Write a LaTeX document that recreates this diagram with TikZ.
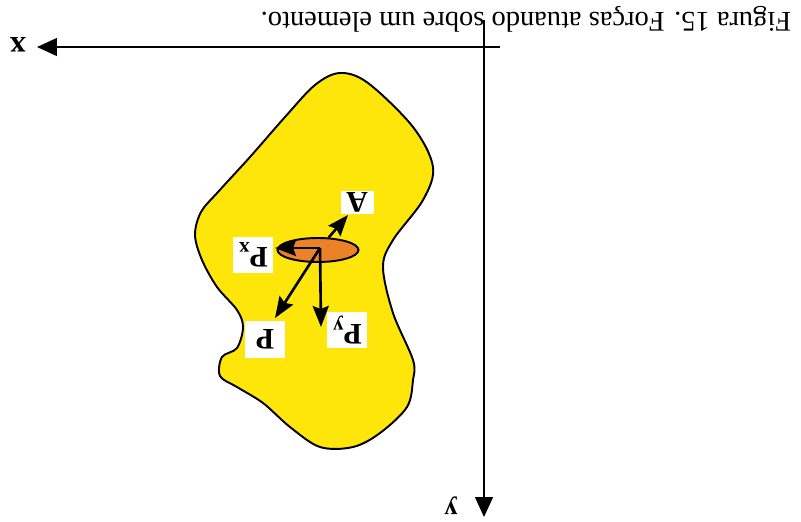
\documentclass[tikz,border=0pt]{standalone}
\usepackage{fontspec}
\setmainfont{Liberation Serif}
\usetikzlibrary{arrows.meta,shapes.geometric}
\definecolor{blobyellow}{RGB}{255,230,10}
\definecolor{elemorange}{RGB}{236,130,40}

\begin{document}
\begin{tikzpicture}[
    x=0.02cm, y=-0.02cm,
    axis/.style={-{Triangle[length=4mm, width=3.6mm]}, line width=0.8pt},
    force/.style={-{Stealth[length=4.2mm, width=3.2mm, inset=0.6mm]}, line width=1.5pt},
    lbl/.style={fill=white, rotate=180, font=\fontsize{17}{20}\selectfont\bfseries, inner sep=0pt, minimum width=0.8cm, minimum height=0.72cm},
    axlbl/.style={rotate=180, font=\fontsize{18}{20}\selectfont\bfseries, inner sep=1pt}
  ]
    \useasboundingbox (0,0) rectangle (801,521);

    \node[rotate=180, font=\fontsize{16.2}{19}\selectfont] (cap) at (526,19) {Figura 15. Forças atuando sobre um elemento.};

    \coordinate (xs) at (500,47);
    \coordinate (xe) at (37,47);
    \coordinate (ys) at (484,20);
    \coordinate (ye) at (484,517);
    \draw[axis] (xs) -- (xe);
    \draw[axis] (ys) -- (ye);
    \node[axlbl] (xl) at (18,45) {x};
    \node[axlbl, font=\fontsize{15}{17}\selectfont\bfseries] (yl) at (451,506) {y};

    \draw[fill=blobyellow, line width=1.1pt] plot[smooth cycle, tension=0.55] coordinates {
      (340,73) (368,83) (413,127) (433,167) (423,200) (393,240) (383,267)
      (393,313) (413,360) (413,380) (407,407) (380,433) (353,447) (320,447)
      (290,427) (263,403) (237,387) (220,376) (222,357) (237,348) (243,327)
      (237,310) (217,287) (202,260) (195,235) (201,212) (218,192) (250,157)
      (285,117) (315,85)};

    \node[draw, fill=elemorange, ellipse, line width=1.1pt, minimum width=1.62cm, minimum height=0.48cm, inner sep=0pt] (el) at (318,250) {};
    \coordinate (o) at (320,248);

    \node[lbl, minimum width=0.66cm, minimum height=0.46cm] (a) at (357,202) {A};
    \node[lbl] (px) at (253,255) {P\textsubscript{x}};
    \node[lbl, minimum height=0.74cm] (p) at (265,339) {P};
    \node[lbl] (py) at (347,330) {P\textsubscript{y}};

    \coordinate (at) at (348,215);
    \coordinate (pxt) at (275,248);
    \coordinate (pt) at (275,318);
    \coordinate (pyt) at (321,327);
    \draw[force] (el) -- (at);
    \draw[force] (o) -- (pxt);
    \draw[force] (o) -- (pt);
    \draw[force] (o) -- (pyt);
\end{tikzpicture}
\end{document}
